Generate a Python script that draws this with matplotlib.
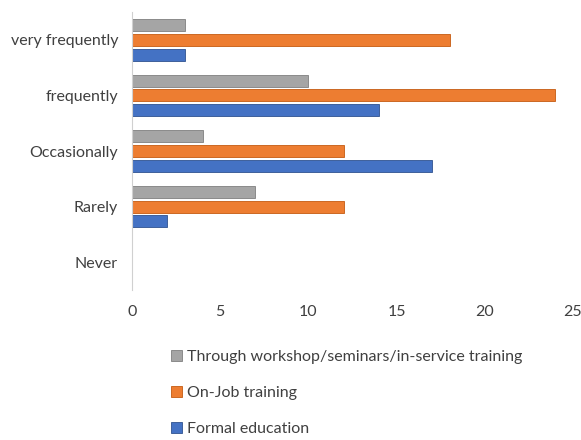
import numpy as np
import matplotlib.pyplot as plt

categories = ['very frequently', 'frequently', 'Occasionally', 'Rarely', 'Never']
workshop = [3, 10, 4, 7, 0]
on_job = [18, 24, 12, 12, 0]
formal = [3, 14, 17, 2, 0]
series_names = ['Through workshop/seminars/in-service training', 'On-Job training', 'Formal education']

plt.rcParams['font.family'] = ['Lato', 'DejaVu Sans']

fig = plt.figure(figsize=(5.81, 4.40), dpi=100)
ax = fig.add_axes([132/581, 1 - 290/440, (573 - 132)/581, (290 - 12)/440])

# categories top to bottom
y = np.arange(len(categories))[::-1]
h = 0.215
off = 0.265
ax.barh(y + off, workshop, height=h, color='#A5A5A5', edgecolor='#7f7f7f', linewidth=0.6)
ax.barh(y, on_job, height=h, color='#ED7D31', edgecolor='#c55a11', linewidth=0.6)
ax.barh(y - off, formal, height=h, color='#4472C4', edgecolor='#2f528f', linewidth=0.6)

ax.set_xlim(0, 25)
ax.set_ylim(-0.5, 4.5)
ax.set_xticks([0, 5, 10, 15, 20, 25])
ax.set_yticks(y)
ax.set_yticklabels(categories)
ax.tick_params(axis='both', length=0, labelsize=11.5, labelcolor='#404040')
ax.tick_params(axis='y', pad=10)
ax.tick_params(axis='x', pad=11)
for s in ['top', 'right', 'bottom']:
    ax.spines[s].set_visible(False)
ax.spines['left'].set_color('#d0d0d0')

handles = [plt.Rectangle((0, 0), 1, 1, facecolor=c, edgecolor=e, linewidth=0.6)
           for c, e in [('#A5A5A5', '#7f7f7f'), ('#ED7D31', '#c55a11'), ('#4472C4', '#2f528f')]]
fig.legend(handles, series_names, loc='upper left', bbox_to_anchor=(168/581, 1 - 347/440),
           frameon=False, fontsize=11.5, handlelength=0.7, handleheight=0.7,
           handletextpad=0.3, labelspacing=1.35, labelcolor='#404040',
           borderaxespad=0, borderpad=0.2)

fig.savefig('out.png', dpi=100)
